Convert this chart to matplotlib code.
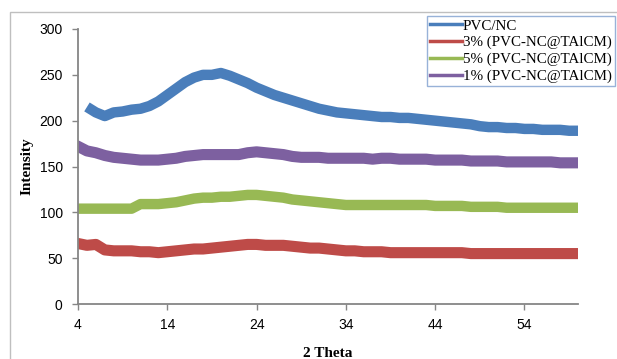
import numpy as np
import matplotlib.pyplot as plt
from matplotlib.patches import Rectangle

# intensities, every 1 deg of 2 theta (PVC/NC starts at 5.5)
theta = np.arange(4, 61, 1)
theta_pvc = np.concatenate(([5.5], np.arange(6, 61, 1)))

pvc_nc = [212, 209, 205, 209, 210, 212, 213, 216, 221, 228, 235, 242, 247, 250, 250,
          252, 249, 245, 241, 236, 232, 228, 225, 222, 219, 216, 213, 211, 209, 208,
          207, 206, 205, 204, 204, 203, 203, 202, 201, 200, 199, 198, 197, 196, 194,
          193, 193, 192, 192, 191, 191, 190, 190, 190, 189, 189]
p3 = [66, 64, 65, 59, 58, 58, 58, 57, 57, 56, 57, 58, 59, 60, 60, 61, 62, 63, 64, 65,
      65, 64, 64, 64, 63, 62, 61, 61, 60, 59, 58, 58, 57, 57, 57, 56, 56, 56, 56, 56,
      56, 56, 56, 56, 55, 55, 55, 55, 55, 55, 55, 55, 55, 55, 55, 55, 55]
p5 = [104, 104, 104, 104, 104, 104, 104, 109, 109, 109, 110, 111, 113, 115, 116, 116,
      117, 117, 118, 119, 119, 118, 117, 116, 114, 113, 112, 111, 110, 109, 108, 108,
      108, 108, 108, 108, 108, 108, 108, 108, 107, 107, 107, 107, 106, 106, 106, 106,
      105, 105, 105, 105, 105, 105, 105, 105, 105]
p1 = [172, 167, 165, 162, 160, 159, 158, 157, 157, 157, 158, 159, 161, 162, 163, 163,
      163, 163, 163, 165, 166, 165, 164, 163, 161, 160, 160, 160, 159, 159, 159, 159,
      159, 158, 159, 159, 158, 158, 158, 158, 157, 157, 157, 157, 156, 156, 156, 156,
      155, 155, 155, 155, 155, 155, 154, 154, 154]

labels = ['PVC/NC', '3% (PVC-NC@TAlCM)', '5% (PVC-NC@TAlCM)', '1% (PVC-NC@TAlCM)']
colors = ['#4a7ebb', '#be4b48', '#98b954', '#7d60a0']

fig = plt.figure(figsize=(6.17, 3.59), dpi=100)
ax = fig.add_axes([78/617, 55/359, 500/617, 275/359])

ax.plot(theta_pvc, pvc_nc, color=colors[0], lw=7.5, label=labels[0])
ax.plot(theta, p3, color=colors[1], lw=8, label=labels[1])
ax.plot(theta, p5, color=colors[2], lw=7.5, label=labels[2])
ax.plot(theta, p1, color=colors[3], lw=8, label=labels[3])

ax.set_xlim(4, 60)
ax.set_ylim(0, 300)
ax.set_xticks([4, 14, 24, 34, 44, 54])
ax.set_yticks(range(0, 301, 50))
for s in ['top', 'right']:
    ax.spines[s].set_visible(False)
for s in ['left', 'bottom']:
    ax.spines[s].set_color('#868686')
    ax.spines[s].set_linewidth(1.3)
ax.tick_params(colors='#868686', length=4, width=1, labelcolor='black')
ax.tick_params(axis='x', pad=6)
ax.tick_params(axis='y', pad=7)
for t in ax.get_xticklabels() + ax.get_yticklabels():
    t.set_fontfamily('Liberation Sans')
    t.set_fontsize(10)

ax.set_xlabel('2 Theta', fontfamily='Liberation Serif', fontweight='bold', fontsize=11, labelpad=11)
ax.set_ylabel('Intensity', fontfamily='Liberation Serif', fontweight='bold', fontsize=11, labelpad=4)

leg = fig.legend(loc='upper left', bbox_to_anchor=(427/617, 1 - 16/359),
                 prop={'family': 'Liberation Serif', 'size': 10.8}, frameon=True,
                 fancybox=False, handlelength=2.1, handletextpad=0.1,
                 labelspacing=0.22, borderpad=0.2, borderaxespad=0)
leg.get_frame().set_edgecolor('#7f9fcf')
leg.get_frame().set_linewidth(1)
for h in leg.get_lines():
    h.set_linewidth(2.5)

fig.patches.append(Rectangle((10/617, -0.1), 1.2, 1.1 - 12/359, transform=fig.transFigure,
                             fill=False, edgecolor='#bfbfbf', lw=1))

fig.savefig('out.png', dpi=100)
